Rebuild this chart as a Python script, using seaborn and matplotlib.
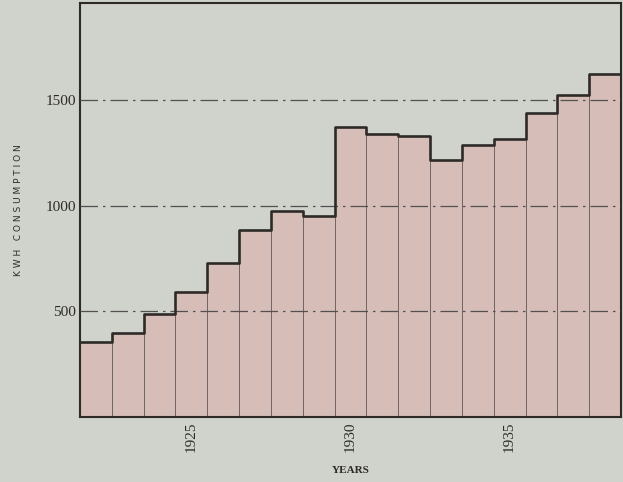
import numpy as np
import pandas as pd
import matplotlib
matplotlib.use("Agg")
import matplotlib.pyplot as plt
import seaborn as sns

years = list(range(1922, 1939))
kwh = [357, 400, 487, 594, 731, 884, 973, 953, 1373, 1341, 1332, 1215, 1286, 1318, 1439, 1523, 1626]
ytick_vals = [500, 1000, 1500]
xtick_years = [1925, 1930, 1935]

bg = "#cfd3cc"
bar_col = "#d6bdb8"
ink = "#2e2a28"

sns.set_theme(style="white")
plt.rcParams["font.family"] = ["Liberation Serif", "DejaVu Serif"]

df = pd.DataFrame({"year": [str(y) for y in years], "kwh": kwh})

fig = plt.figure(figsize=(6.23, 4.82), dpi=100, facecolor=bg)
ax = fig.add_axes([80 / 623, 65 / 482, 541 / 623, 414 / 482])
ax.set_facecolor(bg)

sns.barplot(data=df, x="year", y="kwh", color=bar_col, width=1.0, saturation=1,
            edgecolor="#6e6664", linewidth=0.7, ax=ax, zorder=1)

# step outline on top
edges = np.arange(len(kwh) + 1) - 0.5
ax.step(edges, kwh + [kwh[-1]], where="post", color=ink, linewidth=1.9, zorder=4)

for v in ytick_vals:
    ax.axhline(v, color="#555050", linewidth=0.9, linestyle=(0, (14, 4, 2, 4)), zorder=3)

ax.set_xlim(-0.5, len(kwh) - 0.5)
ax.set_ylim(0, 1960)
ax.set_yticks(ytick_vals)
ax.set_yticklabels([str(v) for v in ytick_vals], fontsize=11, color=ink)
ax.set_xticks([years.index(y) for y in xtick_years])
ax.set_xticklabels([str(y) for y in xtick_years], rotation=90, fontsize=11, color=ink)
ax.tick_params(axis="both", length=0, pad=3)

ax.set_xlabel("YEARS", fontsize=8, fontweight="bold", color=ink, labelpad=10)
ax.set_ylabel("K W H   C O N S U M P T I O N", fontsize=6.5, color=ink, labelpad=16,
              family=["DejaVu Sans"])

for s in ax.spines.values():
    s.set_visible(True)
    s.set_color(ink)
    s.set_linewidth(1.5)

fig.savefig("out.png", dpi=100, facecolor=bg)
